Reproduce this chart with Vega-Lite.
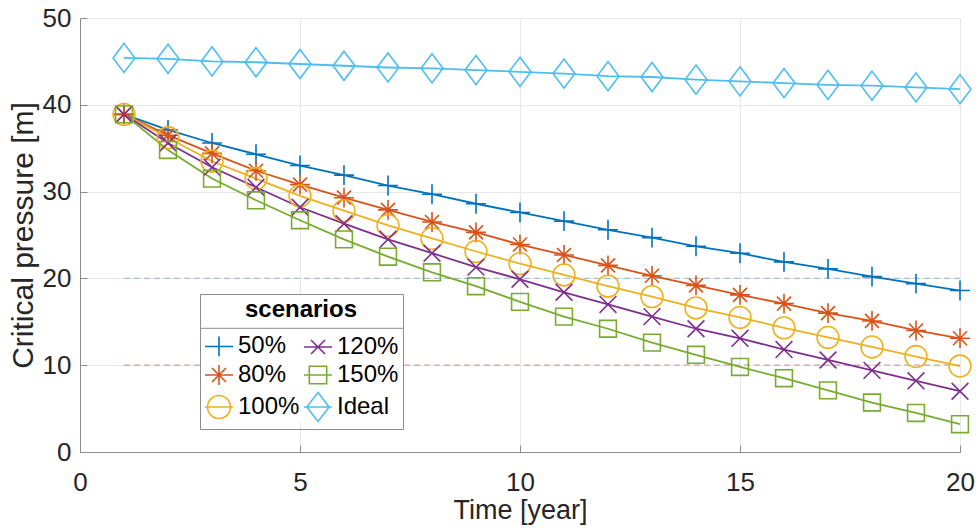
{
  "$schema": "https://vega.github.io/schema/vega-lite/v6.json",
  "width": 880,
  "height": 434,
  "autosize": {"type": "none"},
  "padding": {"left": 80, "top": 18, "right": 16, "bottom": 78},
  "background": "white",
  "config": {
    "font": "Liberation Sans",
    "view": {"stroke": "#e3e3e3", "strokeWidth": 1},
    "axis": {
      "domainColor": "#8c8c8c",
      "domainWidth": 1,
      "tickColor": "#8c8c8c",
      "tickSize": -7,
      "gridColor": "#e8e8e8",
      "gridWidth": 1,
      "labelFont": "Liberation Sans",
      "labelFontSize": 26,
      "labelColor": "#262626",
      "labelFlush": false,
      "titleFont": "Liberation Sans",
      "titleFontWeight": "normal",
      "titleColor": "#262626"
    },
    "axisX": {"labelPadding": 24, "titleFontSize": 27, "titlePadding": 2},
    "axisY": {"labelPadding": 16, "titleFontSize": 30, "titlePadding": 4},
    "legend": {
      "orient": "none",
      "legendX": 120,
      "legendY": 276,
      "columns": 2,
      "padding": 4,
      "titlePadding": 9,
      "titleAnchor": "middle",
      "titleAlign": "center",
      "titleFont": "Liberation Sans",
      "titleFontSize": 24,
      "titleFontWeight": "bold",
      "titleColor": "#000000",
      "labelFont": "Liberation Sans",
      "labelFontSize": 24,
      "labelColor": "#000000",
      "labelOffset": 4,
      "columnPadding": 0,
      "rowPadding": 0,
      "symbolSize": 784,
      "symbolStrokeWidth": 1.6,
      "strokeColor": "#8c8c8c"
    }
  },
  "datasets": {
    "pressure": [
      {"scenario": "50%", "year": 1, "pressure": 38.9},
      {"scenario": "50%", "year": 2, "pressure": 37.1},
      {"scenario": "50%", "year": 3, "pressure": 35.6},
      {"scenario": "50%", "year": 4, "pressure": 34.3},
      {"scenario": "50%", "year": 5, "pressure": 33.0},
      {"scenario": "50%", "year": 6, "pressure": 31.9},
      {"scenario": "50%", "year": 7, "pressure": 30.7},
      {"scenario": "50%", "year": 8, "pressure": 29.7},
      {"scenario": "50%", "year": 9, "pressure": 28.6},
      {"scenario": "50%", "year": 10, "pressure": 27.6},
      {"scenario": "50%", "year": 11, "pressure": 26.6},
      {"scenario": "50%", "year": 12, "pressure": 25.6},
      {"scenario": "50%", "year": 13, "pressure": 24.7},
      {"scenario": "50%", "year": 14, "pressure": 23.7},
      {"scenario": "50%", "year": 15, "pressure": 22.9},
      {"scenario": "50%", "year": 16, "pressure": 21.9},
      {"scenario": "50%", "year": 17, "pressure": 21.1},
      {"scenario": "50%", "year": 18, "pressure": 20.2},
      {"scenario": "50%", "year": 19, "pressure": 19.4},
      {"scenario": "50%", "year": 20, "pressure": 18.6},
      {"scenario": "80%", "year": 1, "pressure": 38.9},
      {"scenario": "80%", "year": 2, "pressure": 36.5},
      {"scenario": "80%", "year": 3, "pressure": 34.4},
      {"scenario": "80%", "year": 4, "pressure": 32.4},
      {"scenario": "80%", "year": 5, "pressure": 30.8},
      {"scenario": "80%", "year": 6, "pressure": 29.3},
      {"scenario": "80%", "year": 7, "pressure": 27.9},
      {"scenario": "80%", "year": 8, "pressure": 26.5},
      {"scenario": "80%", "year": 9, "pressure": 25.3},
      {"scenario": "80%", "year": 10, "pressure": 23.9},
      {"scenario": "80%", "year": 11, "pressure": 22.7},
      {"scenario": "80%", "year": 12, "pressure": 21.5},
      {"scenario": "80%", "year": 13, "pressure": 20.3},
      {"scenario": "80%", "year": 14, "pressure": 19.2},
      {"scenario": "80%", "year": 15, "pressure": 18.1},
      {"scenario": "80%", "year": 16, "pressure": 17.1},
      {"scenario": "80%", "year": 17, "pressure": 16.0},
      {"scenario": "80%", "year": 18, "pressure": 15.1},
      {"scenario": "80%", "year": 19, "pressure": 14.0},
      {"scenario": "80%", "year": 20, "pressure": 13.1},
      {"scenario": "100%", "year": 1, "pressure": 38.9},
      {"scenario": "100%", "year": 2, "pressure": 36.2},
      {"scenario": "100%", "year": 3, "pressure": 33.5},
      {"scenario": "100%", "year": 4, "pressure": 31.5},
      {"scenario": "100%", "year": 5, "pressure": 29.5},
      {"scenario": "100%", "year": 6, "pressure": 27.8},
      {"scenario": "100%", "year": 7, "pressure": 26.1},
      {"scenario": "100%", "year": 8, "pressure": 24.6},
      {"scenario": "100%", "year": 9, "pressure": 23.1},
      {"scenario": "100%", "year": 10, "pressure": 21.7},
      {"scenario": "100%", "year": 11, "pressure": 20.4},
      {"scenario": "100%", "year": 12, "pressure": 19.1},
      {"scenario": "100%", "year": 13, "pressure": 17.9},
      {"scenario": "100%", "year": 14, "pressure": 16.6},
      {"scenario": "100%", "year": 15, "pressure": 15.5},
      {"scenario": "100%", "year": 16, "pressure": 14.3},
      {"scenario": "100%", "year": 17, "pressure": 13.2},
      {"scenario": "100%", "year": 18, "pressure": 12.1},
      {"scenario": "100%", "year": 19, "pressure": 11.0},
      {"scenario": "100%", "year": 20, "pressure": 9.9},
      {"scenario": "120%", "year": 1, "pressure": 38.9},
      {"scenario": "120%", "year": 2, "pressure": 35.6},
      {"scenario": "120%", "year": 3, "pressure": 32.8},
      {"scenario": "120%", "year": 4, "pressure": 30.5},
      {"scenario": "120%", "year": 5, "pressure": 28.2},
      {"scenario": "120%", "year": 6, "pressure": 26.3},
      {"scenario": "120%", "year": 7, "pressure": 24.5},
      {"scenario": "120%", "year": 8, "pressure": 22.9},
      {"scenario": "120%", "year": 9, "pressure": 21.3},
      {"scenario": "120%", "year": 10, "pressure": 19.9},
      {"scenario": "120%", "year": 11, "pressure": 18.4},
      {"scenario": "120%", "year": 12, "pressure": 17.0},
      {"scenario": "120%", "year": 13, "pressure": 15.6},
      {"scenario": "120%", "year": 14, "pressure": 14.2},
      {"scenario": "120%", "year": 15, "pressure": 13.1},
      {"scenario": "120%", "year": 16, "pressure": 11.8},
      {"scenario": "120%", "year": 17, "pressure": 10.6},
      {"scenario": "120%", "year": 18, "pressure": 9.4},
      {"scenario": "120%", "year": 19, "pressure": 8.2},
      {"scenario": "120%", "year": 20, "pressure": 7.0},
      {"scenario": "150%", "year": 1, "pressure": 38.9},
      {"scenario": "150%", "year": 2, "pressure": 34.8},
      {"scenario": "150%", "year": 3, "pressure": 31.5},
      {"scenario": "150%", "year": 4, "pressure": 29.0},
      {"scenario": "150%", "year": 5, "pressure": 26.7},
      {"scenario": "150%", "year": 6, "pressure": 24.5},
      {"scenario": "150%", "year": 7, "pressure": 22.5},
      {"scenario": "150%", "year": 8, "pressure": 20.7},
      {"scenario": "150%", "year": 9, "pressure": 19.1},
      {"scenario": "150%", "year": 10, "pressure": 17.3},
      {"scenario": "150%", "year": 11, "pressure": 15.6},
      {"scenario": "150%", "year": 12, "pressure": 14.2},
      {"scenario": "150%", "year": 13, "pressure": 12.6},
      {"scenario": "150%", "year": 14, "pressure": 11.2},
      {"scenario": "150%", "year": 15, "pressure": 9.8},
      {"scenario": "150%", "year": 16, "pressure": 8.5},
      {"scenario": "150%", "year": 17, "pressure": 7.1},
      {"scenario": "150%", "year": 18, "pressure": 5.7},
      {"scenario": "150%", "year": 19, "pressure": 4.5},
      {"scenario": "150%", "year": 20, "pressure": 3.2},
      {"scenario": "Ideal", "year": 1, "pressure": 45.4},
      {"scenario": "Ideal", "year": 2, "pressure": 45.3},
      {"scenario": "Ideal", "year": 3, "pressure": 45.0},
      {"scenario": "Ideal", "year": 4, "pressure": 44.9},
      {"scenario": "Ideal", "year": 5, "pressure": 44.7},
      {"scenario": "Ideal", "year": 6, "pressure": 44.5},
      {"scenario": "Ideal", "year": 7, "pressure": 44.3},
      {"scenario": "Ideal", "year": 8, "pressure": 44.2},
      {"scenario": "Ideal", "year": 9, "pressure": 44.0},
      {"scenario": "Ideal", "year": 10, "pressure": 43.8},
      {"scenario": "Ideal", "year": 11, "pressure": 43.6},
      {"scenario": "Ideal", "year": 12, "pressure": 43.3},
      {"scenario": "Ideal", "year": 13, "pressure": 43.2},
      {"scenario": "Ideal", "year": 14, "pressure": 42.9},
      {"scenario": "Ideal", "year": 15, "pressure": 42.7},
      {"scenario": "Ideal", "year": 16, "pressure": 42.5},
      {"scenario": "Ideal", "year": 17, "pressure": 42.3},
      {"scenario": "Ideal", "year": 18, "pressure": 42.2},
      {"scenario": "Ideal", "year": 19, "pressure": 42.0},
      {"scenario": "Ideal", "year": 20, "pressure": 41.8}
    ],
    "limits": [
      {"level": "upper", "pressure": 20, "year": 1, "yearEnd": 20},
      {"level": "lower", "pressure": 10, "year": 1, "yearEnd": 20}
    ]
  },
  "encoding": {
    "x": {
      "field": "year",
      "type": "quantitative",
      "scale": {"domain": [0, 20], "nice": false, "zero": false},
      "axis": {"values": [0, 5, 10, 15, 20], "title": "Time [year]"}
    },
    "y": {
      "field": "pressure",
      "type": "quantitative",
      "scale": {"domain": [0, 50], "nice": false},
      "axis": {"values": [0, 10, 20, 30, 40, 50], "title": "Critical pressure [m]"}
    }
  },
  "layer": [
    {
      "data": {"name": "limits"},
      "mark": {"type": "rule", "strokeWidth": 1.3, "strokeDash": [6, 4]},
      "encoding": {
        "x2": {"field": "yearEnd"},
        "stroke": {
          "condition": {"test": "datum.level === 'upper'", "value": "#9fc4dc"},
          "value": "#d3a3a3"
        }
      }
    },
    {
      "data": {"name": "limits"},
      "transform": [{"filter": {"field": "level", "equal": "upper"}}],
      "mark": {"type": "rect", "fill": "#ffffff", "strokeWidth": 0},
      "encoding": {
        "x": {"datum": 2.73, "type": "quantitative"},
        "x2": {"datum": 7.34},
        "y": {"datum": 18.2, "type": "quantitative"},
        "y2": {"datum": 3.34}
      }
    },
    {
      "data": {"name": "limits"},
      "transform": [{"filter": {"field": "level", "equal": "upper"}}],
      "mark": {"type": "rule", "stroke": "#8c8c8c", "strokeWidth": 1},
      "encoding": {
        "x": {"datum": 2.73, "type": "quantitative"},
        "x2": {"datum": 7.34},
        "y": {"datum": 14.25, "type": "quantitative"}
      }
    },
    {
      "data": {"name": "pressure"},
      "mark": {"type": "line", "strokeWidth": 1.8},
      "encoding": {
        "stroke": {
          "field": "scenario",
          "type": "nominal",
          "scale": {
            "domain": ["Ideal", "150%", "120%", "100%", "80%", "50%"],
            "range": ["#4DBEEE", "#77AC30", "#7E2F8E", "#EDB120", "#D95319", "#0072BD"]
          },
          "legend": null
        }
      }
    },
    {
      "data": {"name": "pressure"},
      "mark": {"type": "point", "filled": false, "size": 784, "strokeWidth": 1.6, "opacity": 1},
      "encoding": {
        "color": {
          "field": "scenario",
          "type": "nominal",
          "title": "scenarios",
          "scale": {
            "domain": ["50%", "80%", "100%", "120%", "150%", "Ideal"],
            "range": ["#0072BD", "#D95319", "#EDB120", "#7E2F8E", "#77AC30", "#4DBEEE"]
          },
          "legend": {
            "symbolType": {
              "expr": "datum.value === '50%' ? 'M-1,0H1M0,-0.71V0.71' : datum.value === '80%' ? 'M-1,0H1M0,-0.71V0.71M-0.5,-0.5L0.5,0.5M-0.5,0.5L0.5,-0.5' : datum.value === '100%' ? 'M-1,0H1M-0.82,0A0.82,0.82,0,1,0,0.82,0A0.82,0.82,0,1,0,-0.82,0Z' : datum.value === '120%' ? 'M-1,0H1M-0.5,-0.5L0.5,0.5M-0.5,0.5L0.5,-0.5' : datum.value === '150%' ? 'M-1,0H1M-0.62,-0.62H0.62V0.62H-0.62Z' : 'M-1,0H1M0,-1.04L0.8,0L0,1.04L-0.8,0Z'"
            }
          }
        },
        "shape": {
          "field": "scenario",
          "type": "nominal",
          "scale": {
            "domain": ["Ideal", "150%", "120%", "100%", "80%", "50%"],
            "range": [
              "M0,-1.04L0.78,0L0,1.04L-0.78,0Z",
              "M-0.6,-0.6H0.6V0.6H-0.6Z",
              "M-0.6,-0.6L0.6,0.6M-0.6,0.6L0.6,-0.6",
              "M-0.78,0A0.78,0.78,0,1,0,0.78,0A0.78,0.78,0,1,0,-0.78,0Z",
              "M-0.71,0H0.71M0,-0.71V0.71M-0.5,-0.5L0.5,0.5M-0.5,0.5L0.5,-0.5",
              "M-0.71,0H0.71M0,-0.71V0.71"
            ]
          },
          "legend": null
        }
      }
    }
  ]
}
